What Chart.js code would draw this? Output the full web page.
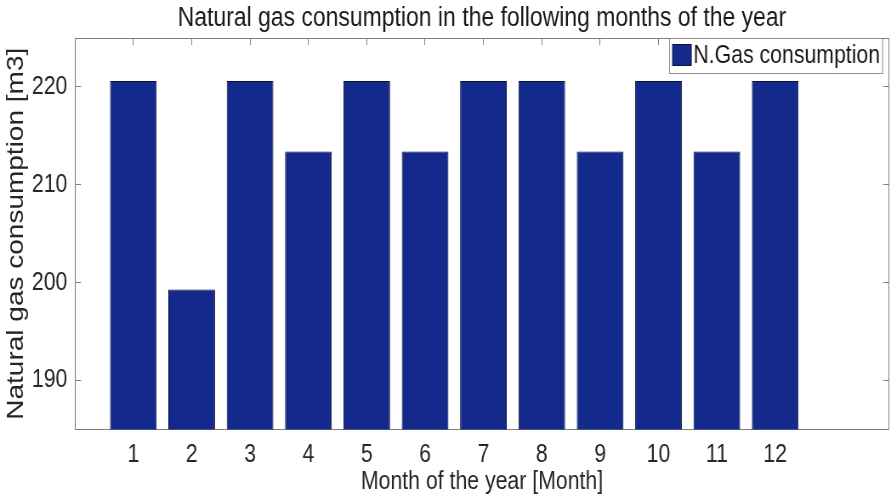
<!DOCTYPE html>
<html lang="en">
<head>
  <meta charset="UTF-8" />
  <meta name="viewport" content="width=device-width, initial-scale=1" />
  <title>Natural gas consumption</title>
  <script src="https://cdn.jsdelivr.net/npm/chart.js"></script>
  <style>
    html, body { margin: 0; padding: 0; background: #fff; overflow: hidden; }
    /* the source figure is squeezed horizontally, so draw wider and scale down */
    #wrap {
      width: 1048px;
      height: 504px;
      transform: scaleX(0.8502);
      transform-origin: 0 0;
    }
  </style>
</head>
<body>
  <div id="wrap"><canvas id="chart"></canvas></div>

  <script>
    const months = [1, 2, 3, 4, 5, 6, 7, 8, 9, 10, 11, 12];
    const consumption = [220.6, 199.3, 220.6, 213.4, 220.6, 213.4, 220.6, 220.6, 213.4, 220.6, 213.4, 220.6];
    const yTicks = [190, 200, 210, 220];
    const seriesLabel = 'N.Gas consumption';

    const textColor = '#262626';
    const axisColor = '#808080';
    const barColor = '#13298b';

    Chart.defaults.font.family = '"Liberation Sans", Arial, Helvetica, sans-serif';

    // boxed legend in the upper right corner of the axes
    const legendBox = {
      id: 'legendBox',
      afterDraw(chart) {
        const { ctx, chartArea } = chart;
        const ds = chart.data.datasets[0];
        ctx.save();
        ctx.font = '25px "Liberation Sans", Arial, sans-serif';
        const w = ctx.measureText(ds.label).width;
        const right = chartArea.right - 7.5;
        const top = chartArea.top + 0.5;
        const h = 35;
        const textX = right - 3 - w;
        const swR = textX - 2.5, swL = swR - 22;
        const left = swL - 3.5;
        ctx.fillStyle = '#fff';
        ctx.fillRect(left, top, right - left, h);
        ctx.strokeStyle = '#8c8c8c';
        ctx.lineWidth = 1;
        ctx.strokeRect(left, top, right - left, h);
        ctx.fillStyle = ds.backgroundColor;
        ctx.fillRect(swL, top + 6, 22, 21);
        ctx.strokeStyle = ds.borderColor;
        ctx.strokeRect(swL, top + 6, 22, 21);
        ctx.fillStyle = '#1a1a1a';
        ctx.textBaseline = 'middle';
        ctx.fillText(ds.label, textX, top + h / 2 + 0.5);
        ctx.restore();
      }
    };

    const inwardGrid = { drawOnChartArea: false, drawTicks: true, tickLength: -7, tickColor: axisColor, offset: false };
    const box = { display: true, color: axisColor, width: 1 };

    new Chart(document.getElementById('chart'), {
      type: 'bar',
      data: {
        datasets: [{
          label: seriesLabel,
          data: months.map((m, i) => ({ x: m, y: consumption[i] })),
          xAxisID: 'x',
          yAxisID: 'y',
          backgroundColor: barColor,
          borderColor: '#0b1238',
          borderWidth: 1,
          borderSkipped: false,
          barPercentage: 0.8,
          categoryPercentage: 1
        }]
      },
      options: {
        responsive: true,
        maintainAspectRatio: false,
        animation: false,
        layout: { padding: { left: 0, right: 2.4, top: 0, bottom: 0 } },
        plugins: {
          legend: { display: false },
          tooltip: { enabled: false },
          title: {
            display: true,
            fullSize: false,
            text: 'Natural gas consumption in the following months of the year',
            color: '#1a1a1a',
            font: { size: 27, weight: 'normal' },
            padding: { top: 2.8, bottom: 2.8 }
          }
        },
        scales: {
          x: {
            type: 'linear',
            position: 'bottom',
            min: 0,
            max: 13.95,
            offset: false,
            afterBuildTicks: s => { s.ticks = months.map(v => ({ value: v })); },
            ticks: { color: textColor, font: { size: 25 }, padding: 18, autoSkip: false, maxRotation: 0, callback: v => String(v) },
            grid: inwardGrid,
            border: box,
            title: {
              display: true,
              text: 'Month of the year [Month]',
              color: textColor,
              font: { size: 25 },
              padding: { top: 0, bottom: 6.5 }
            },
            afterFit: s => { s.height = 74.5; }
          },
          x2: {
            type: 'linear',
            position: 'top',
            min: 0,
            max: 13.95,
            offset: false,
            afterBuildTicks: s => { s.ticks = months.map(v => ({ value: v })); },
            ticks: { display: false },
            grid: inwardGrid,
            border: box,
            afterFit: s => { s.height = 0; }
          },
          y: {
            position: 'left',
            min: 185,
            max: 225,
            beginAtZero: false,
            afterBuildTicks: s => { s.ticks = yTicks.map(v => ({ value: v })); },
            ticks: { color: textColor, font: { size: 25 }, padding: 16 },
            grid: inwardGrid,
            border: box,
            title: {
              display: true,
              text: 'Natural gas consumption [m3]',
              color: textColor,
              font: { size: 28 },
              padding: { top: 2.6, bottom: 0 }
            },
            afterFit: s => { s.width = 88.2; }
          },
          y2: {
            position: 'right',
            min: 185,
            max: 225,
            beginAtZero: false,
            afterBuildTicks: s => { s.ticks = yTicks.map(v => ({ value: v })); },
            ticks: { display: false },
            grid: inwardGrid,
            border: box,
            afterFit: s => { s.width = 0; }
          }
        }
      },
      plugins: [legendBox]
    });
  </script>
</body>
</html>
